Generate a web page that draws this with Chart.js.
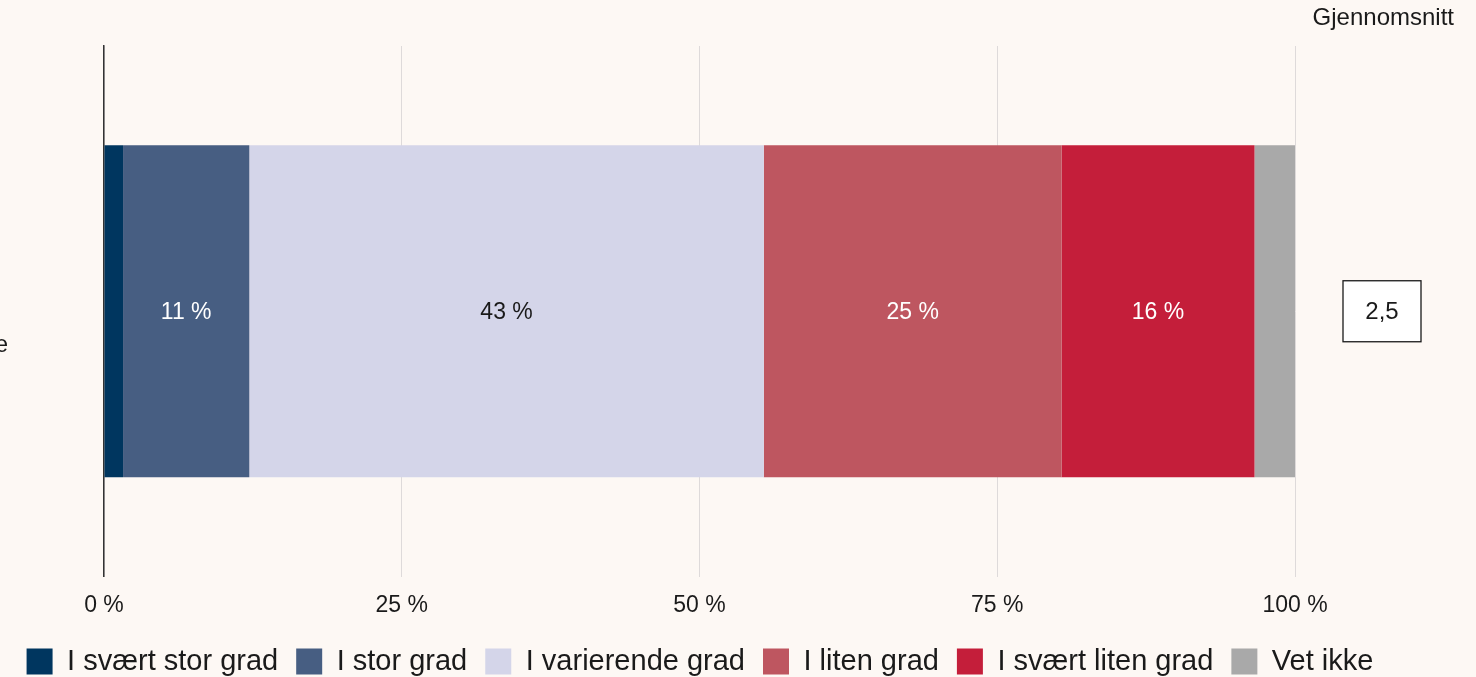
<!DOCTYPE html>
<html>
<head>
<meta charset="utf-8">
<script src="https://cdn.jsdelivr.net/npm/chart.js@4"></script>
<style>
  html, body { margin: 0; padding: 0; background: #fdf8f4; }
  #wrap { position: relative; width: 1476px; height: 677px; }
  canvas { display: block; }
</style>
</head>
<body>
<div id="wrap"><canvas id="c" width="1476" height="677"></canvas></div>
<script>
const categories = ['e'];
const seriesNames = ['I svært stor grad', 'I stor grad', 'I varierende grad', 'I liten grad', 'I svært liten grad', 'Vet ikke'];
const seriesValues = [[1.6], [10.6], [43.2], [25.0], [16.2], [3.4]];
const seriesColors = ['#00365f', '#475e82', '#d4d5e9', '#be5660', '#c41e3a', '#a9a9a9'];
const labelColors = ['#ffffff', '#ffffff', '#1a1a1a', '#ffffff', '#ffffff', '#1a1a1a'];
const xTicks = [0, 25, 50, 75, 100];
const averages = ['2,5'];
const averageTitle = 'Gjennomsnitt';

const FONT = 'Liberation Sans, Arial, Helvetica, sans-serif';

const segLabels = {
  id: 'segLabels',
  afterDatasetsDraw(chart) {
    const ctx = chart.ctx;
    ctx.save();
    ctx.font = '23px ' + FONT;
    ctx.textAlign = 'center';
    ctx.textBaseline = 'middle';
    chart.data.datasets.forEach((ds, i) => {
      const meta = chart.getDatasetMeta(i);
      meta.data.forEach((bar, j) => {
        const v = ds.data[j];
        if (v < 5) return;
        const p = bar.getProps(['x', 'base', 'y'], true);
        ctx.fillStyle = labelColors[i];
        ctx.fillText(Math.round(v) + ' %', (p.x + p.base) / 2, p.y + 1);
      });
    });
    ctx.restore();
  }
};

const avgBox = {
  id: 'avgBox',
  afterDraw(chart) {
    const ctx = chart.ctx;
    const area = chart.chartArea;
    const yScale = chart.scales.y;
    ctx.save();
    ctx.font = '24px ' + FONT;
    ctx.fillStyle = '#1a1a1a';
    ctx.textAlign = 'right';
    ctx.textBaseline = 'middle';
    ctx.fillText(averageTitle, 1454, 18);
    averages.forEach((a, j) => {
      const cy = yScale.getPixelForValue(j);
      const cx = area.right + 87;
      const w = 78, h = 61;
      ctx.fillStyle = '#ffffff';
      ctx.fillRect(cx - w / 2, cy - h / 2, w, h);
      ctx.strokeStyle = '#1a1a1a';
      ctx.lineWidth = 1.3;
      ctx.strokeRect(cx - w / 2, cy - h / 2, w, h);
      ctx.fillStyle = '#1a1a1a';
      ctx.textAlign = 'center';
      ctx.fillText(a, cx, cy + 1);
    });
    ctx.restore();
  }
};

const bgPlugin = {
  id: 'bg',
  beforeDraw(chart) {
    const ctx = chart.ctx;
    ctx.save();
    ctx.fillStyle = '#fdf8f4';
    ctx.fillRect(0, 0, chart.width, chart.height);
    ctx.restore();
  }
};

new Chart(document.getElementById('c'), {
  type: 'bar',
  data: {
    labels: categories,
    datasets: seriesNames.map((n, i) => ({
      label: n,
      data: seriesValues[i],
      backgroundColor: seriesColors[i],
      borderWidth: 0,
      barPercentage: 0.626,
      categoryPercentage: 1.0
    }))
  },
  options: {
    indexAxis: 'y',
    responsive: false,
    animation: false,
    devicePixelRatio: 1,
    layout: { padding: { left: 0, right: 76, top: 46, bottom: -9 } },
    scales: {
      x: {
        stacked: true,
        min: 0, max: 100,
        afterBuildTicks(scale) { scale.ticks = xTicks.map(v => ({ value: v })); },
        afterFit(scale) { scale.height = 52.5; },
        grid: { color: '#dedada', lineWidth: 1, drawTicks: false },
        border: { display: false },
        ticks: {
          padding: 15,
          color: '#1a1a1a',
          font: { family: FONT, size: 23 },
          callback: v => v + ' %'
        }
      },
      y: {
        stacked: true,
        afterFit(scale) { scale.width = 104; scale.paddingTop = 0; scale.paddingBottom = 0; },
        grid: { display: false, drawTicks: false },
        border: { display: true, color: '#333333', width: 1.5 },
        ticks: {
          crossAlign: 'near',
          padding: 96,
          color: '#1a1a1a',
          font: { family: FONT, size: 23, lineHeight: 1.478 },
          callback: function(v) { return ['', '', this.getLabelForValue(v)]; }
        }
      },
      yRight: {
        type: 'linear',
        axis: 'y',
        position: 'right',
        display: true,
        afterFit(scale) { scale.width = 105; scale.paddingTop = 0; scale.paddingBottom = 0; },
        grid: { display: false, drawTicks: false },
        border: { display: false },
        ticks: { display: false }
      }
    },
    plugins: {
      legend: {
        position: 'bottom',
        labels: {
          boxWidth: 26,
          boxHeight: 26,
          padding: 18,
          color: '#1a1a1a',
          font: { family: FONT, size: 29 }
        }
      },
      tooltip: { enabled: false }
    }
  },
  plugins: [bgPlugin, segLabels, avgBox]
});
</script>
</body>
</html>
